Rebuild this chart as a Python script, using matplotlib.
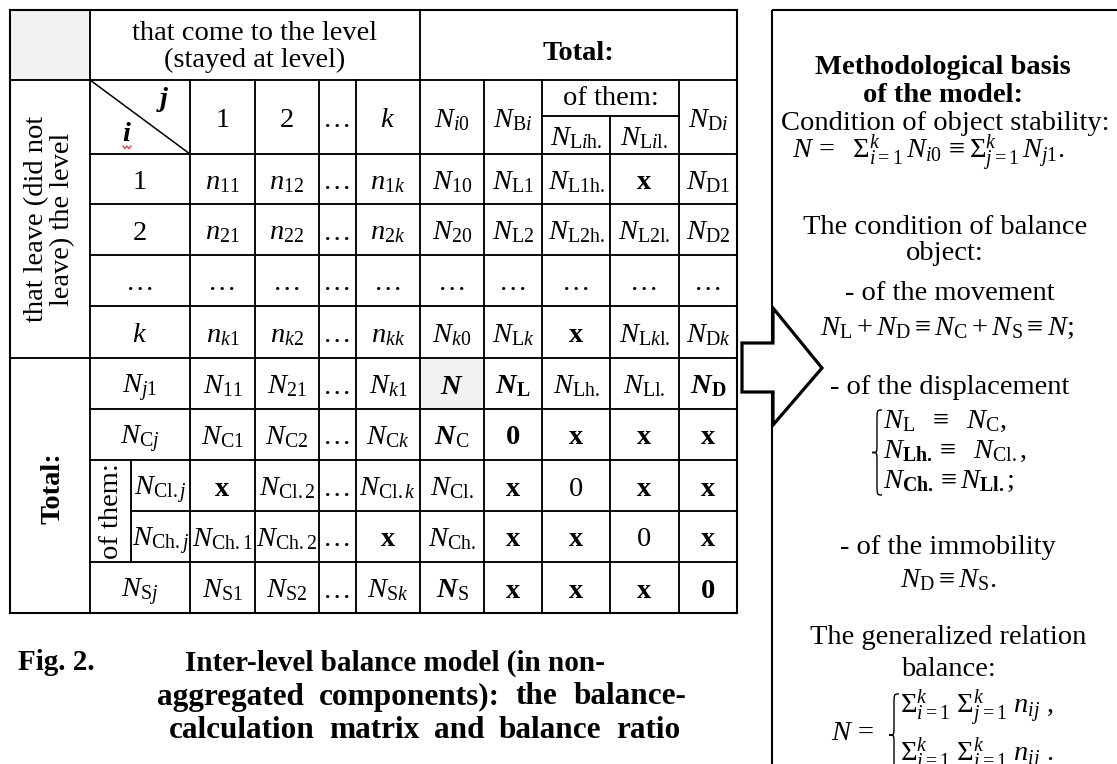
import matplotlib
matplotlib.use('Agg')
import matplotlib.pyplot as plt
from matplotlib.patches import Rectangle, Polygon, PathPatch
from matplotlib.path import Path

plt.rcParams['font.family'] = ['Liberation Serif', 'DejaVu Serif']
plt.rcParams['mathtext.fontset'] = 'custom'
plt.rcParams['mathtext.rm'] = 'Liberation Serif'
plt.rcParams['mathtext.it'] = 'Liberation Serif:italic'
plt.rcParams['mathtext.bf'] = 'Liberation Serif:bold'
plt.rcParams['mathtext.bfit'] = 'Liberation Serif:italic:bold'

# ---------------- data (texts of the matrix) ----------------
col_header = 'that come to the level\n(stayed at level)'
row_header = 'that leave (did not\nleave) the level'
total_word = 'Total:'
of_them = 'of them:'
X = r'$\mathbf{x}$'
level_cols = ['1', '2', '…', r'$k$']
sum_cols = [r'$N_{i0}$', r'$N_{\mathrm{B}i}$', r'$N_{\mathrm{D}i}$']
sub_cols = [r'$N_{\mathrm{L}i\mathrm{h.}}$', r'$N_{\mathrm{L}i\mathrm{l.}}$']

level_rows = ['1', '2', '…', r'$k$']
flows = [
    [r'$n_{11}$', r'$n_{12}$', '…', r'$n_{1k}$'],
    [r'$n_{21}$', r'$n_{22}$', '…', r'$n_{2k}$'],
    ['…', '…', '…', '…'],
    [r'$n_{k1}$', r'$n_{k2}$', '…', r'$n_{kk}$'],
]
row_sums = [
    [r'$N_{10}$', r'$N_{\mathrm{L1}}$', r'$N_{\mathrm{L1h.}}$', X, r'$N_{\mathrm{D1}}$'],
    [r'$N_{20}$', r'$N_{\mathrm{L2}}$', r'$N_{\mathrm{L2h.}}$', r'$N_{\mathrm{L2l.}}$', r'$N_{\mathrm{D2}}$'],
    ['…', '…', '…', '…', '…'],
    [r'$N_{k0}$', r'$N_{\mathrm{L}k}$', X, r'$N_{\mathrm{L}k\mathrm{l.}}$', r'$N_{\mathrm{D}k}$'],
]
total_rows = [r'$N_{j1}$', r'$N_{\mathrm{C}j}$', r'$N_{\mathrm{Cl.}j}$', r'$N_{\mathrm{Ch.}j}$', r'$N_{\mathrm{S}j}$']
total_flows = [
    [r'$N_{11}$', r'$N_{21}$', '…', r'$N_{k1}$'],
    [r'$N_{\mathrm{C1}}$', r'$N_{\mathrm{C2}}$', '…', r'$N_{\mathrm{C}k}$'],
    [X, r'$N_{\mathrm{Cl.2}}$', '…', r'$N_{\mathrm{Cl.}k}$'],
    [r'$N_{\mathrm{Ch.1}}$', r'$N_{\mathrm{Ch.2}}$', '…', X],
    [r'$N_{\mathrm{S1}}$', r'$N_{\mathrm{S2}}$', '…', r'$N_{\mathrm{S}k}$'],
]
total_sums = [
    [r'$\mathbfit{N}$', r'$\mathbfit{N}_{\mathbf{L}}$', r'$N_{\mathrm{Lh.}}$', r'$N_{\mathrm{Ll.}}$', r'$\mathbfit{N}_{\mathbf{D}}$'],
    [r'$\mathbfit{N}_{\mathrm{C}}$', r'$\mathbf{0}$', X, X, X],
    [r'$N_{\mathrm{Cl.}}$', X, '0', X, X],
    [r'$N_{\mathrm{Ch.}}$', X, X, '0', X],
    [r'$\mathbfit{N}_{\mathrm{S}}$', X, X, X, r'$\mathbf{0}$'],
]

panel_lines = [
    ('Methodological basis', 'bold'),
    ('of the model:', 'bold'),
    ('Condition of object stability:', 'normal'),
    (r'$N\, =\ \ \Sigma_{i=1}^{k}\, N_{i0}\, \equiv \Sigma_{j=1}^{k}\, N_{j1}.$', 'normal'),
    ('The condition of balance', 'normal'),
    ('object:', 'normal'),
    ('- of the movement', 'normal'),
    (r'$N_{\mathrm{L}} + N_{\mathrm{D}} \equiv N_{\mathrm{C}} + N_{\mathrm{S}} \equiv N;$', 'normal'),
    ('- of the displacement', 'normal'),
    ('- of the immobility', 'normal'),
    (r'$N_{\mathrm{D}} \equiv N_{\mathrm{S}}.$', 'normal'),
    ('The generalized relation', 'normal'),
    ('balance:', 'normal'),
]
displacement_cases = [
    r'$N_{\mathrm{L}}\ \ \equiv\ \ N_{\mathrm{C}},$',
    r'$N_{\mathbf{Lh.}} \equiv\ \ N_{\mathrm{Cl.}},$',
    r'$N_{\mathbf{Ch.}} \equiv N_{\mathbf{Ll.}};$',
]
balance_lhs = r'$N\, =$'
balance_cases = [
    r'$\Sigma_{i=1}^{k}\ \Sigma_{j=1}^{k}\ n_{ij}\ ,$',
    r'$\Sigma_{j=1}^{k}\ \Sigma_{i=1}^{k}\ n_{ij}\ .$',
]
caption_label = 'Fig. 2.'
caption_lines = ['Inter-level balance model (in non-',
                 'aggregated components): the balance-',
                 'calculation matrix and balance ratio']

# ---------------- layout ----------------
W, H = 1117, 764
FS = 20.5
LW = 1.35
xs = [10, 90, 190, 255, 319, 356, 420, 484, 542, 610, 679, 737]
ys = [10, 80, 154, 204, 255, 306, 358, 409, 460, 511, 562, 613]
x_sub = 131      # split of the "of them" label column
y_sub = 116      # split under "of them:" in the header
GREY = '#f2f2f2'
BOFF = 10        # baseline offset from cell centre

fig = plt.figure(figsize=(W / 100, H / 100), dpi=100)
ax = fig.add_axes([0, 0, 1, 1])
ax.set_xlim(0, W)
ax.set_ylim(H, 0)
ax.axis('off')
renderer = fig.canvas.get_renderer()


def hline(y, x0, x1, lw=LW):
    ax.plot([x0, x1], [y, y], color='black', lw=lw, solid_capstyle='projecting', zorder=3)


def vline(x, y0, y1, lw=LW):
    ax.plot([x, x], [y0, y1], color='black', lw=lw, solid_capstyle='projecting', zorder=3)


def ctext(x0, x1, y0, y1, s, **kw):
    ax.text((x0 + x1) / 2, (y0 + y1) / 2 + BOFF, s, ha='center', va='baseline',
            fontsize=FS, zorder=4, **kw)


def justify(line, x0, x1, y, **kw):
    words = line.split(' ')
    texts = [ax.text(0, y, w, ha='left', va='center', **kw) for w in words]
    widths = [t.get_window_extent(renderer).width for t in texts]
    gap = (x1 - x0 - sum(widths)) / max(len(words) - 1, 1)
    x = x0
    for t, w in zip(texts, widths):
        t.set_x(x)
        x += w + gap


# grey cells
ax.add_patch(Rectangle((xs[0], ys[0]), xs[1] - xs[0], ys[1] - ys[0], color=GREY, zorder=1, lw=0))
ax.add_patch(Rectangle((xs[6], ys[6]), xs[7] - xs[6], ys[7] - ys[6], color=GREY, zorder=1, lw=0))

# horizontal grid lines
hline(ys[0], xs[0], xs[-1], 1.5)
hline(ys[1], xs[0], xs[-1])
hline(y_sub, xs[8], xs[10])
for y in ys[2:6]:
    hline(y, xs[1], xs[-1])
hline(ys[6], xs[0], xs[-1])
hline(ys[7], xs[1], xs[-1])
hline(ys[8], xs[1], xs[-1])
hline(ys[9], x_sub, xs[-1])
hline(ys[10], xs[1], xs[-1])
hline(ys[11], xs[0], xs[-1], 1.5)

# vertical grid lines
vline(xs[0], ys[0], ys[-1], 1.5)
vline(xs[1], ys[0], ys[-1])
for x in xs[2:6]:
    vline(x, ys[1], ys[-1])
vline(xs[6], ys[0], ys[-1])
vline(xs[7], ys[1], ys[-1])
vline(xs[8], ys[1], ys[-1])
vline(xs[9], y_sub, ys[-1])
vline(xs[10], ys[1], ys[-1])
vline(xs[11], ys[0], ys[-1], 1.5)
vline(x_sub, ys[8], ys[10])

# diagonal in corner cell
ax.plot([xs[1], xs[2]], [ys[1], ys[2]], color='black', lw=1.1, zorder=3)
ax.text(163, 106, r'$\mathbfit{j}$', ha='center', va='baseline', fontsize=FS, zorder=4)
ax.text(127, 141, r'$\mathbfit{i}$', ha='center', va='baseline', fontsize=FS, zorder=4)
ax.plot([123, 125, 127, 129, 131], [146, 148.5, 146, 148.5, 146], color='#e03030', lw=0.9, zorder=4)

# headers
ax.text((xs[1] + xs[6]) / 2, 47, col_header, ha='center', va='center', fontsize=FS,
        linespacing=1.05, multialignment='center')
ax.text((xs[6] + xs[11]) / 2, 60, total_word, ha='center', va='baseline', fontsize=FS,
        fontweight='bold')
ax.text(50, (ys[1] + ys[6]) / 2, row_header, ha='center', va='center', fontsize=FS,
        rotation=90, linespacing=1.05, multialignment='center')
ax.text(53, 488, total_word, ha='center', va='center', fontsize=FS, rotation=90,
        fontweight='bold')
ax.text((xs[1] + x_sub) / 2 + 1, (ys[8] + ys[10]) / 2, of_them, ha='center', va='center',
        fontsize=FS, rotation=90)

# column header row
for c, s in enumerate(level_cols):
    ctext(xs[2 + c], xs[3 + c], ys[1], ys[2], s)
ctext(xs[6], xs[7], ys[1], ys[2], sum_cols[0])
ctext(xs[7], xs[8], ys[1], ys[2], sum_cols[1])
ctext(xs[10], xs[11], ys[1], ys[2], sum_cols[2])
ax.text((xs[8] + xs[10]) / 2, 105, of_them, ha='center', va='baseline', fontsize=FS)
ctext(xs[8], xs[9], y_sub, ys[2], sub_cols[0])
ctext(xs[9], xs[10], y_sub, ys[2], sub_cols[1])

# matrix rows
for r in range(4):
    y0, y1 = ys[2 + r], ys[3 + r]
    ctext(xs[1], xs[2], y0, y1, level_rows[r])
    for c, s in enumerate(flows[r]):
        ctext(xs[2 + c], xs[3 + c], y0, y1, s)
    for c, s in enumerate(row_sums[r]):
        ctext(xs[6 + c], xs[7 + c], y0, y1, s)

# total rows
for r in range(5):
    y0, y1 = ys[6 + r], ys[7 + r]
    lx0 = x_sub if r in (2, 3) else xs[1]
    ctext(lx0, xs[2], y0, y1, total_rows[r])
    for c, s in enumerate(total_flows[r]):
        ctext(xs[2 + c], xs[3 + c], y0, y1, s)
    for c, s in enumerate(total_sums[r]):
        ctext(xs[6 + c], xs[7 + c], y0, y1, s)

# caption
CFS = 21
ax.text(18, 663, caption_label, ha='left', va='center', fontsize=CFS, fontweight='bold')
ax.text(395, 663, caption_lines[0], ha='center', va='center', fontsize=CFS, fontweight='bold')
justify(caption_lines[1], 157, 686, 697, fontsize=22.5, fontweight='bold')
justify(caption_lines[2], 169, 680, 730, fontsize=22.5, fontweight='bold')

# right panel box and arrow
ax.add_patch(Rectangle((772, 10), 500, 900, fill=False, edgecolor='black', lw=1.5, zorder=2))
arrow = Polygon([(742, 343), (773, 343), (773, 308), (822, 368), (773, 425), (773, 392), (742, 392)],
                closed=True, facecolor='white', edgecolor='black', lw=2.3, joinstyle='miter', zorder=5)
ax.add_patch(arrow)

panel_x = [943, 943, 945, 928, 945, 945, 950, 947, 950, 948, 948, 948, 948]
panel_y = [68, 95, 123, 153, 227, 253, 293, 328, 387, 547, 580, 638, 670]
for (s, wt), x, y in zip(panel_lines, panel_x, panel_y):
    ax.text(x, y, s, ha='center', va='center', fontsize=FS, fontweight=wt, zorder=6)


def brace(x_tip, x_right, y0, y1, lw=1.0):
    h = y1 - y0
    ym = (y0 + y1) / 2
    xm = (x_tip + x_right) / 2
    verts = [(x_right, y0),
             (xm, y0), (xm, y0), (xm, y0 + 0.14 * h),
             (xm, ym - 0.1 * h),
             (xm, ym), (xm, ym), (x_tip, ym),
             (xm, ym), (xm, ym), (xm, ym + 0.1 * h),
             (xm, y1 - 0.14 * h),
             (xm, y1), (xm, y1), (x_right, y1)]
    codes = [Path.MOVETO,
             Path.CURVE4, Path.CURVE4, Path.CURVE4,
             Path.LINETO,
             Path.CURVE4, Path.CURVE4, Path.CURVE4,
             Path.CURVE4, Path.CURVE4, Path.CURVE4,
             Path.LINETO,
             Path.CURVE4, Path.CURVE4, Path.CURVE4]
    ax.add_patch(PathPatch(Path(verts, codes), fill=False, edgecolor='black', lw=lw, zorder=6))


brace(872, 882, 410, 495)
for s, y in zip(displacement_cases, [421, 451, 481]):
    ax.text(883, y, s, ha='left', va='center', fontsize=FS, zorder=6)

ax.text(853, 733, balance_lhs, ha='center', va='center', fontsize=FS, zorder=6)
brace(889, 899, 694, 776)
for s, y in zip(balance_cases, [708, 756]):
    ax.text(900, y, s, ha='left', va='center', fontsize=FS, zorder=6)

fig.savefig('out.png', dpi=100)
